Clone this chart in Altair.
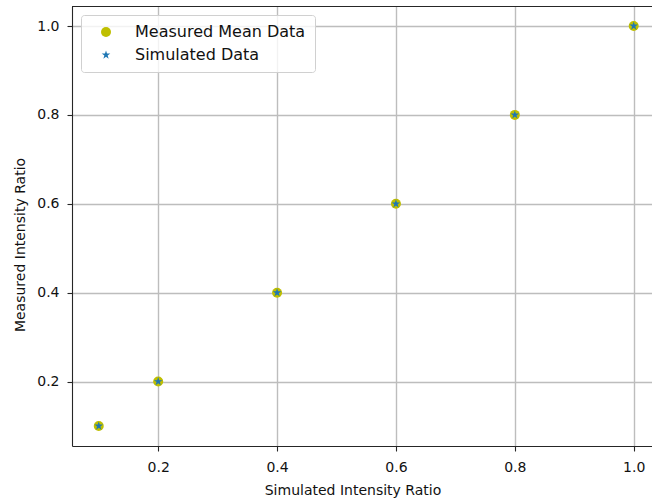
import math
import altair as alt
import pandas as pd

# Data
simulated_ratio = [0.1, 0.2, 0.4, 0.6, 0.8, 1.0]
measured_mean = [0.1, 0.2, 0.4, 0.6, 0.8, 1.0]
simulated_data = [0.1, 0.2, 0.4, 0.6, 0.8, 1.0]
series_names = ["Measured Mean Data", "Simulated Data"]
tick_values = [0.2, 0.4, 0.6, 0.8, 1.0]

df = pd.DataFrame({
    "x": simulated_ratio + simulated_ratio,
    "y": measured_mean + simulated_data,
    "series": [series_names[0]] * len(measured_mean) + [series_names[1]] * len(simulated_data),
})

# five-pointed star marker (matplotlib '*'), unit box -1..1
_pts = []
for k in range(10):
    r = 1.0 if k % 2 == 0 else 0.381966
    a = math.radians(-90 + 36 * k)
    _pts.append(f"{r * math.cos(a):.4f},{r * math.sin(a):.4f}")
STAR_PATH = "M" + " L".join(_pts) + " Z"

FONT = "DejaVu Sans"
X_DOMAIN = [0.055, 0.055 + 580 / 594.4]
Y_DOMAIN = [0.055, 1.045]

xscale = alt.Scale(domain=X_DOMAIN, nice=False, zero=False)
yscale = alt.Scale(domain=Y_DOMAIN, nice=False, zero=False)

y_axis = alt.Axis(
    values=tick_values, format=".1f", grid=True, tickSize=5, labelPadding=8,
    title="Measured Intensity Ratio", titleAngle=270, titleX=-48, titleY=238.5,
    titleAlign="center", titleBaseline="alphabetic",
)
x_axis = alt.Axis(
    values=tick_values, format=".1f", grid=True, tickSize=5, labelPadding=9,
    title="Simulated Intensity Ratio", titleX=280.5, titleY=48,
    titleAlign="center", titleBaseline="alphabetic",
)

color_scale = alt.Scale(domain=series_names, range=["#bfbf00", "#1f77b4"])
shape_scale = alt.Scale(domain=series_names, range=["circle", STAR_PATH])
size_scale = alt.Scale(domain=series_names, range=[100, 81])

points = alt.Chart(df).mark_point(filled=True, opacity=1).encode(
    x=alt.X("x:Q", scale=xscale, axis=x_axis),
    y=alt.Y("y:Q", scale=yscale, axis=y_axis),
    color=alt.Color("series:N", scale=color_scale, legend=alt.Legend(title=None)),
    shape=alt.Shape("series:N", scale=shape_scale, legend=alt.Legend(title=None)),
    size=alt.Size("series:N", scale=size_scale, legend=None),
    order=alt.Order("series:N"),
)

# top spine of the axes frame
top_spine = alt.Chart(pd.DataFrame({"k": [0]})).mark_rule(
    color="#262626", strokeWidth=1
).encode(x=alt.value(0), x2=alt.value(580), y=alt.value(0.5))

chart = (
    alt.layer(points, top_spine)
    .properties(
        width=580, height=440,
        autosize=alt.AutoSizeParams(type="none"),
        padding={"left": 72, "top": 6, "right": 0, "bottom": 58},
    )
    .configure(font=FONT, background="white")
    .configure_view(stroke=None)
    .configure_axis(
        labelFont=FONT, titleFont=FONT, labelFontSize=14, titleFontSize=14,
        titleFontWeight="normal", labelColor="#111111", titleColor="#111111",
        domainColor="#262626", domainWidth=1.1, tickColor="#262626", tickWidth=1.1,
        gridColor="#bdbdbd", gridWidth=1.4, gridOpacity=1,
    )
    .configure_legend(
        orient="none", legendX=9, legendY=9, padding=9,
        strokeColor="#d0d0d0", fillColor="rgba(255,255,255,0.8)", cornerRadius=3,
        labelFont=FONT, labelFontSize=16, labelColor="#111111", labelLimit=400,
        symbolSize=95, symbolOffset=8, labelOffset=21, rowPadding=7,
        symbolStrokeWidth=0,
    )
)

chart.save("out.html", embed_options={"renderer": "svg", "actions": False})
